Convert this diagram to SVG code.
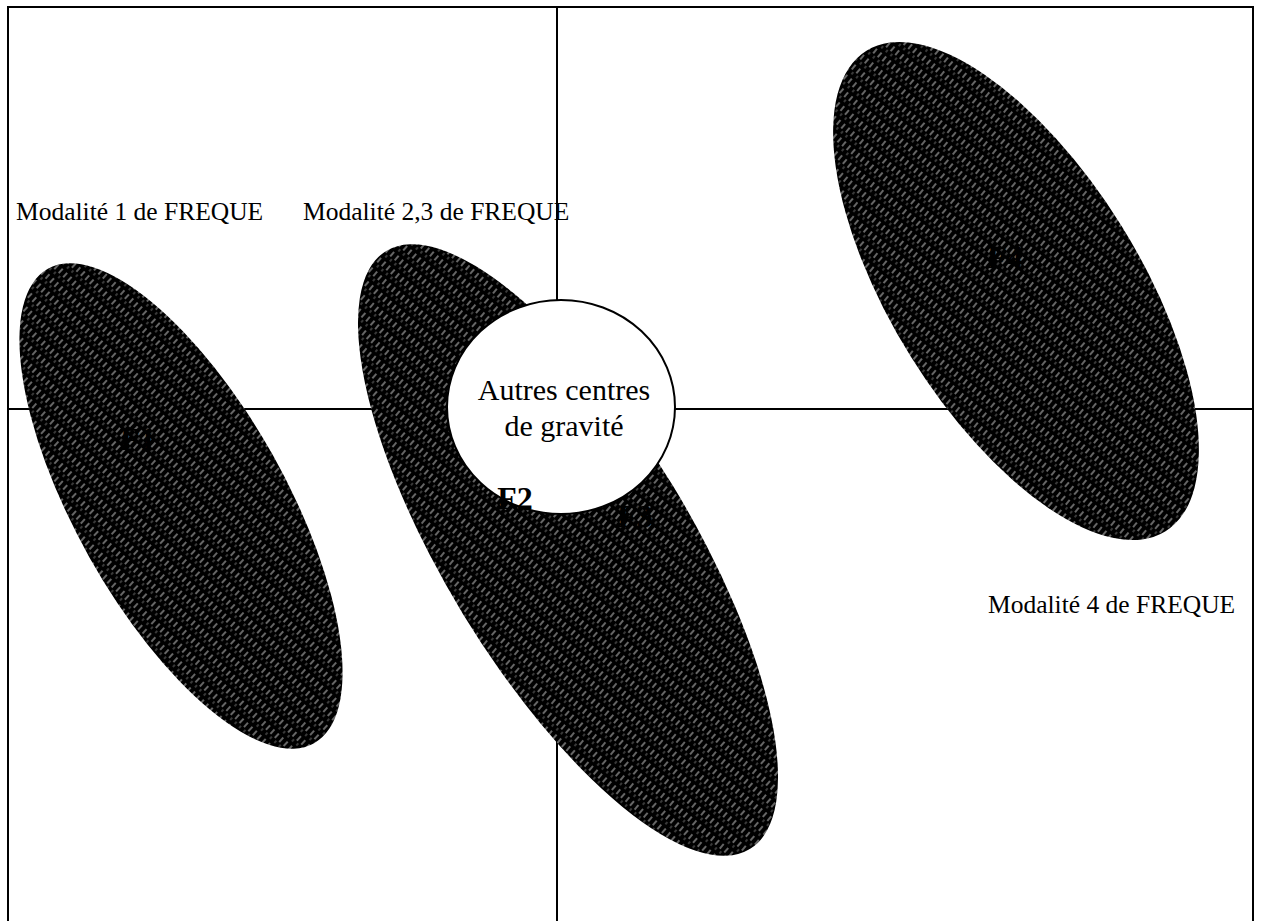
<svg xmlns="http://www.w3.org/2000/svg" width="1261" height="921" viewBox="0 0 1261 921">
<style>
.lbl{font-family:"Liberation Serif","Times New Roman",serif;font-size:25.5px;fill:#000}
.ctr{font-family:"Liberation Serif","Times New Roman",serif;font-size:30px;fill:#000;text-anchor:middle}
.fk{font-family:"Liberation Serif","Times New Roman",serif;font-size:32px;font-weight:bold;fill:#000;text-anchor:middle}
.ax{stroke:#000;stroke-width:2;fill:none}
.blob{fill:url(#hatch)}
</style>
<defs>
<pattern id="hatch" width="6" height="13" patternUnits="userSpaceOnUse" patternTransform="rotate(-18)">
<rect width="6" height="13" fill="#000"/>
<line x1="2" y1="1" x2="2" y2="7" stroke="#fff" stroke-width="0.8"/>
<line x1="5" y1="8" x2="5" y2="11" stroke="#bbb" stroke-width="0.6"/>
</pattern>
</defs>
<rect x="0" y="0" width="1261" height="921" fill="#fff"/>
<g id="axes">
<rect class="ax" x="8" y="7" width="1245" height="920"/>
<line class="ax" x1="557" y1="7" x2="557" y2="921"/>
<line class="ax" x1="8" y1="409" x2="1253" y2="409"/>
</g>
<g id="modalite1">
<ellipse class="blob" cx="181" cy="506" rx="272" ry="105" transform="rotate(60.7 181 506)"/>
<text class="fk" x="138" y="450">F1</text>
<text class="lbl" x="16" y="220">Modalité 1 de FREQUE</text>
</g>
<g id="modalite23">
<ellipse class="blob" cx="568" cy="550" rx="350" ry="123" transform="rotate(58.7 568 550)"/>
<text class="fk" x="635" y="527">F3</text>
<text class="lbl" x="303" y="220">Modalité 2,3 de FREQUE</text>
</g>
<g id="modalite4">
<ellipse class="blob" cx="1016" cy="291" rx="283" ry="124" transform="rotate(58.1 1016 291)"/>
<text class="fk" x="1005" y="268">F4</text>
<text class="lbl" x="988" y="613">Modalité 4 de FREQUE</text>
</g>
<g id="autres">
<ellipse cx="561" cy="407" rx="114" ry="107" fill="#fff" stroke="#000" stroke-width="2"/>
<text class="ctr" x="564" y="400">Autres centres</text>
<text class="ctr" x="564" y="436">de gravité</text>
</g>
<g id="f2">
<text class="fk" x="515" y="509">F2</text>
</g>
</svg>
